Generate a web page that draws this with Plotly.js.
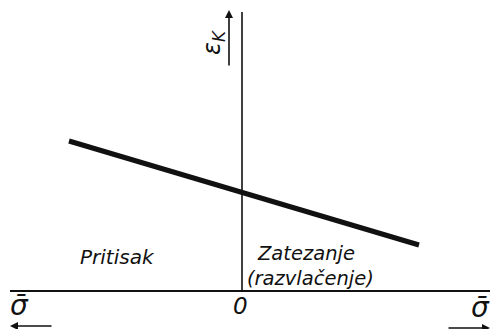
<!DOCTYPE html>
<html>
<head>
<meta charset="utf-8">
<script src="https://cdn.plot.ly/plotly-3.0.1.min.js"></script>
<style>html,body{margin:0;padding:0;background:#fff;}#chart{width:493px;height:329px;}</style>
</head>
<body>
<div id="chart"></div>
<script>
// Data: sigma (normalised stress) vs epsilon_K
var sigmaValues = [-3.44, 3.56];
var epsKValues = [3.0, 0.92];
var leftLabel = 'Pritisak';
var rightLabel1 = 'Zatezanje';
var rightLabel2 = '(razvlačenje)';
var xLabel = 'σ̄';
var yLabel = 'ε<sub>K</sub>';
var originLabel = '0';

var W = 493, H = 329, OX = 241, OY = 291, U = 50;
function X(px){ return (px - OX) / U; }
function Y(py){ return (OY - py) / U; }

var font = {family: 'DejaVu Sans, sans-serif', color: '#111', size: 20};
function fs(s){ return Object.assign({}, font, {size: s}); }
function txt(t, x, y, opts){
  return Object.assign({text: '<i>' + t + '</i>', x: x, y: y, xref: 'x', yref: 'y', showarrow: false, font: font}, opts || {});
}
function arrow(x0, y0, x1, y1){
  return {x: x1, y: y1, ax: x0, ay: y0, xref: 'x', yref: 'y', axref: 'x', ayref: 'y', text: '', showarrow: true,
          arrowhead: 2, arrowsize: 1, arrowwidth: 1.6, arrowcolor: '#111'};
}

var trace = {x: sigmaValues, y: epsKValues, mode: 'lines', line: {color: '#111', width: 5}, hoverinfo: 'skip'};

var layout = {
  width: W, height: H, margin: {l: 0, r: 0, t: 0, b: 0},
  paper_bgcolor: '#fff', plot_bgcolor: '#fff', showlegend: false,
  xaxis: {range: [X(0), X(W)], visible: false, fixedrange: true},
  yaxis: {range: [Y(H), Y(0)], visible: false, fixedrange: true},
  shapes: [
    {type: 'line', xref: 'x', yref: 'y', x0: X(10), x1: X(490), y0: 0, y1: 0, line: {color: '#111', width: 2}},
    {type: 'line', xref: 'x', yref: 'y', x0: X(242), x1: X(242), y0: 0, y1: Y(12), line: {color: '#111', width: 1.6}}
  ],
  annotations: [
    txt(leftLabel, X(117), Y(257)),
    txt(rightLabel1, X(255), Y(253), {xanchor: 'left', font: fs(19.5)}),
    txt(rightLabel2, X(245), Y(278), {xanchor: 'left', font: fs(19.5)}),
    txt(originLabel, X(240), Y(306), {font: fs(23)}),
    txt(xLabel, X(19), Y(305), {font: fs(28)}),
    txt(xLabel, X(480), Y(307), {font: fs(28)}),
    txt(yLabel, X(213), Y(42), {textangle: -90, font: fs(24)}),
    arrow(X(53), Y(326), X(10), Y(326)),
    arrow(X(447), Y(328), X(490), Y(328)),
    arrow(X(229), Y(67), X(229), Y(10))
  ]
};

Plotly.newPlot('chart', [trace], layout, {staticPlot: true, displayModeBar: false});
</script>
</body>
</html>
